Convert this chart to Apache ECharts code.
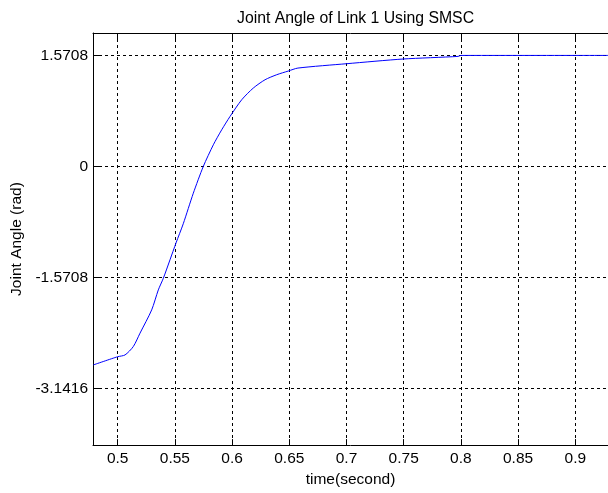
<!DOCTYPE html>
<html>
<head>
<meta charset="utf-8">
<script src="https://cdn.jsdelivr.net/npm/echarts@6/dist/echarts.min.js"></script>
<style>
html,body{margin:0;padding:0;background:#fff;overflow:hidden;width:608px;height:493px;}
#chart{width:610px;height:493px;}
</style>
</head>
<body>
<div id="chart"></div>
<script>
// ---- data ----
const timeValues  = [0.4787, 0.5, 0.5064, 0.5136, 0.5195, 0.5297, 0.5355, 0.5399, 0.5457, 0.551, 0.5573, 0.5661, 0.5748, 0.5836, 0.5909, 0.5982, 0.6084, 0.6185, 0.6288, 0.6390, 0.6491, 0.6575, 0.7004, 0.7494, 0.7975, 0.80, 0.85, 0.9, 0.9286];
const angleValues = [-2.806, -2.69, -2.665, -2.547, -2.357, -2.028, -1.745, -1.58, -1.32, -1.08, -0.81, -0.377, 0, 0.307, 0.519, 0.708, 0.944, 1.109, 1.227, 1.298, 1.350, 1.392, 1.454, 1.52, 1.557, 1.5708, 1.5708, 1.5708, 1.5708];
const xTickValues = [0.5, 0.55, 0.6, 0.65, 0.7, 0.75, 0.8, 0.85, 0.9];
const xTickLabels = ['0.5', '0.55', '0.6', '0.65', '0.7', '0.75', '0.8', '0.85', '0.9'];
const yTickValues = [-3.1416, -1.5708, 0, 1.5708];
const yTickLabels = ['-3.1416', '-1.5708', '0', '1.5708'];
const titleText = 'Joint Angle of Link 1 Using SMSC';
const xName = 'time(second)';
const yName = 'Joint Angle (rad)';

const FONT = "'Liberation Sans', Arial, sans-serif";
const chart = echarts.init(document.getElementById('chart'), null, {renderer: 'canvas'});
const seriesData = timeValues.map((t, i) => [t, angleValues[i]]);
const gridLine = {show: true, lineStyle: {color: '#000', width: 1, type: [3, 3]}};
const axisLine = {show: true, onZero: false, lineStyle: {color: '#000', width: 1}};
const tickStyle = {show: true, inside: true, length: 6, lineStyle: {color: '#000', width: 1}};

chart.setOption({
  animation: false,
  backgroundColor: '#fff',
  title: {
    text: titleText, left: 232, top: 6,
    textStyle: {fontFamily: FONT, fontSize: 15.8, fontWeight: 'normal', color: '#000'}
  },
  grid: {left: 93, right: 2, top: 33, bottom: 47, containLabel: false},
  xAxis: [{
    type: 'value', position: 'bottom', min: 0.4784, max: 0.9286,
    name: xName, nameLocation: 'middle', nameGap: 25,
    nameTextStyle: {fontFamily: FONT, fontSize: 15.5, color: '#000'},
    axisLine: axisLine,
    axisTick: Object.assign({customValues: xTickValues}, tickStyle),
    axisLabel: {customValues: xTickValues, margin: 6, fontFamily: FONT, fontSize: 15.5, color: '#000',
      formatter: v => { const i = xTickValues.findIndex(x => Math.abs(x - v) < 1e-9); return i >= 0 ? xTickLabels[i] : ''; }},
    splitLine: gridLine
  }, {
    type: 'value', position: 'top', min: 0.4784, max: 0.9286,
    axisLine: axisLine,
    axisTick: Object.assign({customValues: xTickValues}, tickStyle),
    axisLabel: {show: false},
    splitLine: {show: false}
  }],
  yAxis: [{
    type: 'value', position: 'left', min: -3.94, max: 1.888,
    name: yName, nameLocation: 'middle', nameGap: 66, nameRotate: 90,
    nameTextStyle: {fontFamily: FONT, fontSize: 15.5, color: '#000'},
    axisLine: axisLine,
    axisTick: Object.assign({customValues: yTickValues}, tickStyle),
    axisLabel: {customValues: yTickValues, margin: 5, fontFamily: FONT, fontSize: 15.5, color: '#000',
      formatter: v => { const i = yTickValues.findIndex(y => Math.abs(y - v) < 1e-9); return i >= 0 ? yTickLabels[i] : ''; }},
    splitLine: gridLine
  }],
  series: [{
    type: 'line', xAxisIndex: 0, yAxisIndex: 0,
    data: seriesData, showSymbol: false, smooth: 0.25,
    lineStyle: {color: '#0000ff', width: 1}, clip: true
  }]
});
</script>
</body>
</html>
